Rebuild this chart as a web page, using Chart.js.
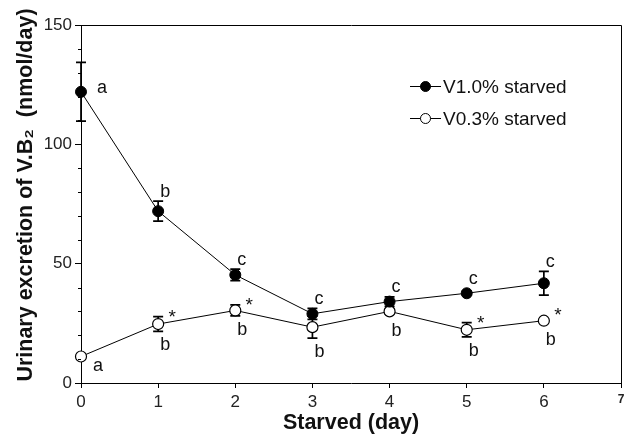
<!DOCTYPE html>
<html><head><meta charset="utf-8">
<script src="https://cdn.jsdelivr.net/npm/chart.js@4/dist/chart.umd.min.js"></script>
<style>html,body{margin:0;padding:0;background:#fff}#wrap{width:633px;height:437px;position:relative}</style>
</head><body><div id="wrap"><canvas id="c"></canvas></div>
<script>
const days = [0, 1, 2, 3, 4, 5, 6];
const v10Mean = [122, 72, 45.3, 29, 34.1, 37.6, 41.8];
const v10Err = [12.3, 4.2, 2.4, 2.3, 2.0, 0.8, 5.0];
const v10Letters = ['a', 'b', 'c', 'c', 'c', 'c', 'c'];
const v03Mean = [11.1, 24.7, 30.4, 23.4, 30.0, 22.3, 26.1];
const v03Err = [0.5, 3.1, 2.3, 4.6, 1.0, 3.0, 0.5];
const v03Letters = ['a', 'b', 'b', 'b', 'b', 'b', 'b'];
const v03Star = [false, true, true, false, false, true, true];
const seriesNames = ['V1.0% starved', 'V0.3% starved'];
const xTitle = 'Starved (day)';
const yTitle = '   Urinary excretion of V.B\u2082  (nmol/day)';
const yMajorTicks = [0, 50, 100, 150];

const FONT = "'Liberation Sans', Arial, sans-serif";
const INK = '#111';
const R = 5.5;

const errSets = [v10Err, v03Err];
const meanSets = [v10Mean, v03Mean];

const errorBars = {
  id: 'errorBars',
  beforeDatasetsDraw(chart) {
    const {ctx, scales: {x, y}} = chart;
    ctx.save();
    ctx.strokeStyle = '#000';
    ctx.lineWidth = 1.7;
    meanSets.forEach((m, s) => {
      m.forEach((v, i) => {
        const px = x.getPixelForValue(days[i]);
        const t = y.getPixelForValue(v + errSets[s][i]);
        const b = y.getPixelForValue(v - errSets[s][i]);
        ctx.beginPath();
        ctx.moveTo(px, t); ctx.lineTo(px, b);
        ctx.moveTo(px - 5, t); ctx.lineTo(px + 5, t);
        ctx.moveTo(px - 5, b); ctx.lineTo(px + 5, b);
        ctx.stroke();
      });
    });
    ctx.restore();
  }
};

const annotations = {
  id: 'annotations',
  afterDatasetsDraw(chart) {
    const {ctx, scales: {x, y}} = chart;
    ctx.save();
    ctx.fillStyle = INK;
    ctx.textAlign = 'left';
    ctx.textBaseline = 'alphabetic';
    ctx.font = '18px ' + FONT;
    v10Mean.forEach((v, i) => {
      const px = x.getPixelForValue(days[i]);
      const py = y.getPixelForValue(v);
      if (i === 0) { ctx.fillText(v10Letters[i], px + 16, py + 1); return; }
      const top = Math.min(y.getPixelForValue(v + v10Err[i]), py - R);
      ctx.fillText(v10Letters[i], px + 2, top - 4);
    });
    v03Mean.forEach((v, i) => {
      const px = x.getPixelForValue(days[i]);
      const py = y.getPixelForValue(v);
      if (i === 0) { ctx.fillText(v03Letters[i], px + 12, py + 14); return; }
      const bot = Math.max(y.getPixelForValue(v - v03Err[i]), py + R);
      ctx.fillText(v03Letters[i], px + 2, bot + 19);
    });
    ctx.textAlign = 'center';
    ctx.font = '19px ' + FONT;
    v03Mean.forEach((v, i) => {
      if (!v03Star[i]) return;
      const px = x.getPixelForValue(days[i]);
      const py = y.getPixelForValue(v);
      const top = Math.min(y.getPixelForValue(v + v03Err[i]), py - R);
      ctx.fillText('*', px + 14, top - 4 + 10);
    });
    ctx.restore();
  }
};

const frameAndTicks = {
  id: 'frameAndTicks',
  afterDraw(chart) {
    const {ctx, chartArea: a, scales: {y}} = chart;
    ctx.save();
    ctx.strokeStyle = '#000';
    ctx.lineWidth = 1;
    ctx.beginPath();
    ctx.moveTo(Math.round(a.left) + 0.5, Math.round(a.top) + 0.5);
    ctx.lineTo(Math.round(a.right) + 0.5, Math.round(a.top) + 0.5);
    ctx.lineTo(Math.round(a.right) + 0.5, Math.round(a.bottom) + 0.5);
    ctx.stroke();
    ctx.beginPath();
    y.ticks.forEach(t => {
      if (yMajorTicks.includes(t.value)) return;
      const py = Math.round(y.getPixelForValue(t.value)) + 0.5;
      ctx.moveTo(a.left - 3, py); ctx.lineTo(a.left, py);
    });
    ctx.stroke();
    ctx.restore();
  }
};

const customLegend = {
  id: 'customLegend',
  afterDraw(chart) {
    const {ctx} = chart;
    ctx.save();
    const rows = [86, 118];
    chart.data.datasets.forEach((ds, i) => {
      const yy = rows[i] + 0.5;
      ctx.strokeStyle = '#000';
      ctx.lineWidth = 1;
      ctx.beginPath(); ctx.moveTo(410, yy); ctx.lineTo(441, yy); ctx.stroke();
      ctx.beginPath(); ctx.arc(425.5, yy, 5, 0, Math.PI * 2);
      ctx.fillStyle = ds.pointBackgroundColor; ctx.fill(); ctx.stroke();
      ctx.fillStyle = INK;
      ctx.font = '19px ' + FONT;
      ctx.textAlign = 'left'; ctx.textBaseline = 'middle';
      ctx.fillText(ds.label, 443, yy + 1);
    });
    ctx.restore();
  }
};

new Chart(document.getElementById('c'), {
  type: 'line',
  data: {
    datasets: [
      { label: seriesNames[0], data: days.map((d, i) => ({x: d, y: v10Mean[i]})),
        borderColor: '#000', borderWidth: 1, pointRadius: R, pointBackgroundColor: '#000',
        pointBorderColor: '#000', pointBorderWidth: 1, clip: false, tension: 0 },
      { label: seriesNames[1], data: days.map((d, i) => ({x: d, y: v03Mean[i]})),
        borderColor: '#000', borderWidth: 1, pointRadius: R, pointBackgroundColor: '#fff',
        pointBorderColor: '#000', pointBorderWidth: 1.2, clip: false, tension: 0 }
    ]
  },
  options: {
    responsive: true, maintainAspectRatio: false, animation: false, events: [],
    layout: { padding: { top: 25, right: 12, left: 0, bottom: 0 } },
    plugins: { legend: { display: false }, tooltip: { enabled: false } },
    scales: {
      x: {
        type: 'linear', min: 0, max: 7,
        afterFit(s) { s.height = 54; },
        border: { display: true, color: '#000', width: 1 },
        grid: { drawOnChartArea: false, drawTicks: true, tickLength: 5, color: '#000', tickColor: '#000' },
        ticks: {
          stepSize: 1, autoSkip: false, maxRotation: 0, padding: 4, color: '#222',
          font: c => (c.tick && c.tick.value === 7) ? {family: FONT, size: 12, weight: 'bold'} : {family: FONT, size: 17}
        },
        title: { display: true, text: xTitle, color: INK, font: {family: FONT, size: 21.5, weight: 'bold'}, padding: {top: 0, bottom: 1} }
      },
      y: {
        type: 'linear', min: 0, max: 150,
        afterFit(s) { s.width = 81; },
        border: { display: true, color: '#000', width: 1 },
        grid: { drawOnChartArea: false, drawTicks: true, tickLength: 6, color: '#000',
          tickColor: c => (c.tick && yMajorTicks.includes(c.tick.value)) ? '#000' : 'rgba(0,0,0,0)' },
        ticks: {
          stepSize: 10, autoSkip: false, padding: 3, color: '#222',
          font: {family: FONT, size: 17},
          callback: v => yMajorTicks.includes(v) ? String(v) : ''
        },
        title: { display: true, text: yTitle, color: INK, font: {family: FONT, size: 21.5, weight: 'bold'}, padding: {top: 13, bottom: 0} }
      }
    }
  },
  plugins: [errorBars, annotations, frameAndTicks, customLegend]
});
</script>
</body></html>
